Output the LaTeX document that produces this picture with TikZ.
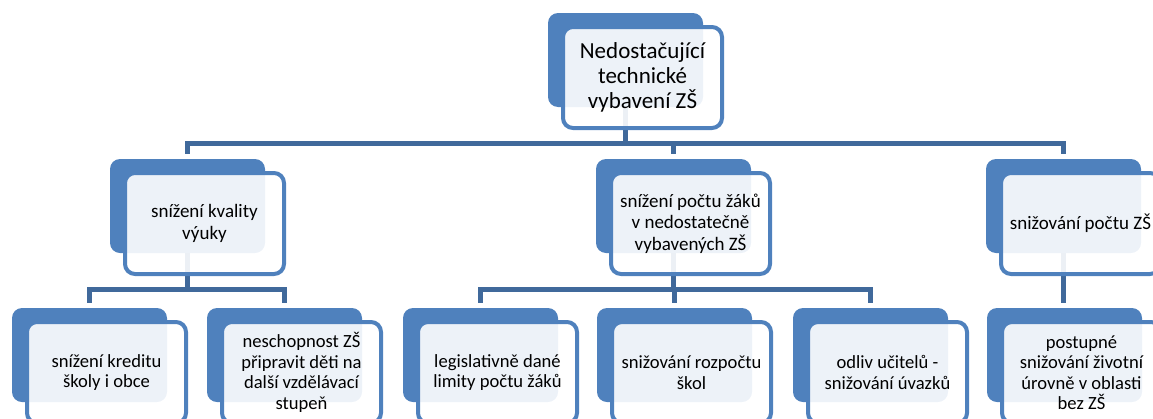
\documentclass[tikz,border=0pt]{standalone}
\usepackage{fontspec}
\setmainfont{Carlito}
\definecolor{boxblue}{HTML}{4F81BD}
\definecolor{linkblue}{HTML}{40699B}
\tikzset{
  back/.style={fill=boxblue, draw=none, rounded corners=10pt, minimum width=155pt, minimum height=94pt, inner sep=0pt},
  front/.style={draw=boxblue, line width=4pt, fill=white, fill opacity=0.9, text opacity=1, rounded corners=10pt, minimum width=159pt, minimum height=101pt, inner sep=2pt, align=center, text=black},
  conn/.style={draw=linkblue, line width=5pt, shorten >=5pt},
  bigtext/.style={font=\fontsize{23}{25}\selectfont},
  midtext/.style={font=\fontsize{19}{21.7}\selectfont},
  smalltext/.style={font=\fontsize{18.6}{20.5}\selectfont},
}
\begin{document}
\begin{tikzpicture}[x=1pt,y=-1pt]
\useasboundingbox (0,0) rectangle (1153,418);
\clip (0,0) rectangle (1153,418);
% back boxes
\node[back] (b0) at (625.5,60) {};
\node[back] (b1) at (187.5,206) {};
\node[back] (b2) at (673.5,206) {};
\node[back] (b3) at (1063.5,206) {};
\node[back] (b4) at (89.5,355) {};
\node[back] (b5) at (284.5,355) {};
\node[back] (b6) at (480.5,355) {};
\node[back] (b7) at (674.5,355) {};
\node[back] (b8) at (870.5,355) {};
\node[back] (b9) at (1064.5,355) {};
% bus levels
\coordinate (bus0) at (0,143);
\coordinate (bus1) at (0,289);
% connectors
\draw[conn] (b0.south) -- (b0.south |- bus0) -| (b1.north);
\draw[conn] (b0.south) -- (b0.south |- bus0) -| (b2.north);
\draw[conn] (b0.south) -- (b0.south |- bus0) -| (b3.north);
\draw[conn] (b1.south) -- (b1.south |- bus1) -| (b4.north);
\draw[conn] (b1.south) -- (b1.south |- bus1) -| (b5.north);
\draw[conn] (b2.south) -- (b2.south |- bus1) -| (b6.north);
\draw[conn] (b2.south) -- (b2.south |- bus1) -| (b7.north);
\draw[conn] (b2.south) -- (b2.south |- bus1) -| (b8.north);
\draw[conn] (b3.south) -- (b3.south |- b9.north);
% front boxes with text
\node[front, bigtext] (f0) at (642.5,77.5) {Nedostačující\\technické\\vybavení ZŠ};
\node[front, midtext] (f1) at (204.5,223.5) {snížení kvality\\výuky};
\node[front, midtext] (f2) at (690.5,223.5) {snížení počtu žáků\\v nedostatečně\\vybavených ZŠ};
\node[front, midtext] (f3) at (1080.5,223.5) {snižování počtu ZŠ};
\node[front, smalltext] (f4) at (106.5,372.5) {snížení kreditu\\školy i obce};
\node[front, smalltext] (f5) at (301.5,372.5) {neschopnost ZŠ\\připravit děti na\\další vzdělávací\\stupeň};
\node[front, smalltext] (f6) at (497.5,372.5) {legislativně dané\\limity počtu žáků};
\node[front, smalltext] (f7) at (691.5,372.5) {snižování rozpočtu\\škol};
\node[front, smalltext] (f8) at (887.5,372.5) {odliv učitelů -\\snižování úvazků};
\node[front, smalltext] (f9) at (1081.5,372.5) {postupné\\snižování životní\\úrovně v oblasti\\bez ZŠ};
\end{tikzpicture}
\end{document}
